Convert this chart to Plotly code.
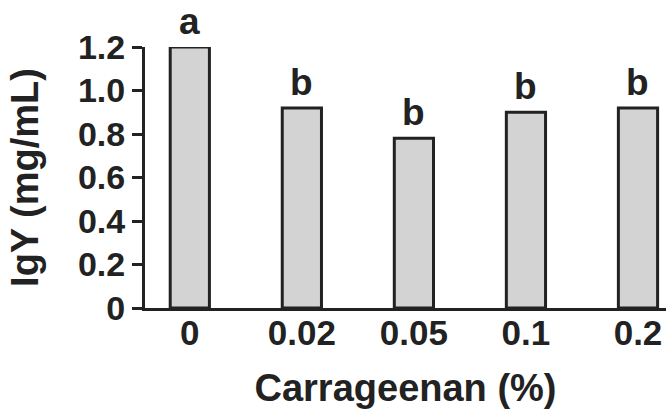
import plotly.graph_objects as go

categories = ["0", "0.02", "0.05", "0.1", "0.2"]
igy_values = [1.20, 0.92, 0.78, 0.90, 0.92]
sig_letters = ["a", "b", "b", "b", "b"]
y_ticks = [0, 0.2, 0.4, 0.6, 0.8, 1.0, 1.2]
y_tick_labels = ["0", "0.2", "0.4", "0.6", "0.8", "1.0", "1.2"]

ink = "#222222"
font_family = "Liberation Sans, Arial, sans-serif"

fig = go.Figure()
fig.add_trace(go.Bar(
    x=categories, y=igy_values, width=0.35,
    marker=dict(color="#d3d3d3", line=dict(color=ink, width=3)),
    cliponaxis=False, showlegend=False,
))

for i, (v, t) in enumerate(zip(igy_values, sig_letters)):
    fig.add_annotation(x=i, y=v, xref="x", yref="y", text=t, showarrow=False,
                       yanchor="bottom", yshift=3,
                       font=dict(family=font_family, size=37, color=ink, weight="bold"))

fig.update_layout(
    width=667, height=414,
    margin=dict(l=145, r=1, t=47, b=106),
    plot_bgcolor="white", paper_bgcolor="white",
    font=dict(family=font_family, color=ink),
)
fig.update_xaxes(
    type="category", range=[-0.4, 4.25],
    showline=True, linewidth=3, linecolor=ink, ticks="",
    ticklabelstandoff=-8,
    showgrid=False, zeroline=False,
    tickfont=dict(family=font_family, size=35, color=ink, weight="bold"),
    title=dict(text="Carrageenan (%)", standoff=24,
               font=dict(family=font_family, size=38, color=ink, weight="bold")),
)
fig.update_yaxes(
    range=[0, 1.2], tickvals=y_ticks, ticktext=y_tick_labels,
    showline=True, linewidth=3, linecolor=ink,
    ticks="outside", ticklen=10, tickwidth=3, tickcolor=ink,
    showgrid=False, zeroline=False,
    tickfont=dict(family=font_family, size=34, color=ink, weight="bold"),
    title=dict(text="IgY (mg/mL)", standoff=28,
               font=dict(family=font_family, size=38, color=ink, weight="bold")),
)

fig.write_html("out.html")
